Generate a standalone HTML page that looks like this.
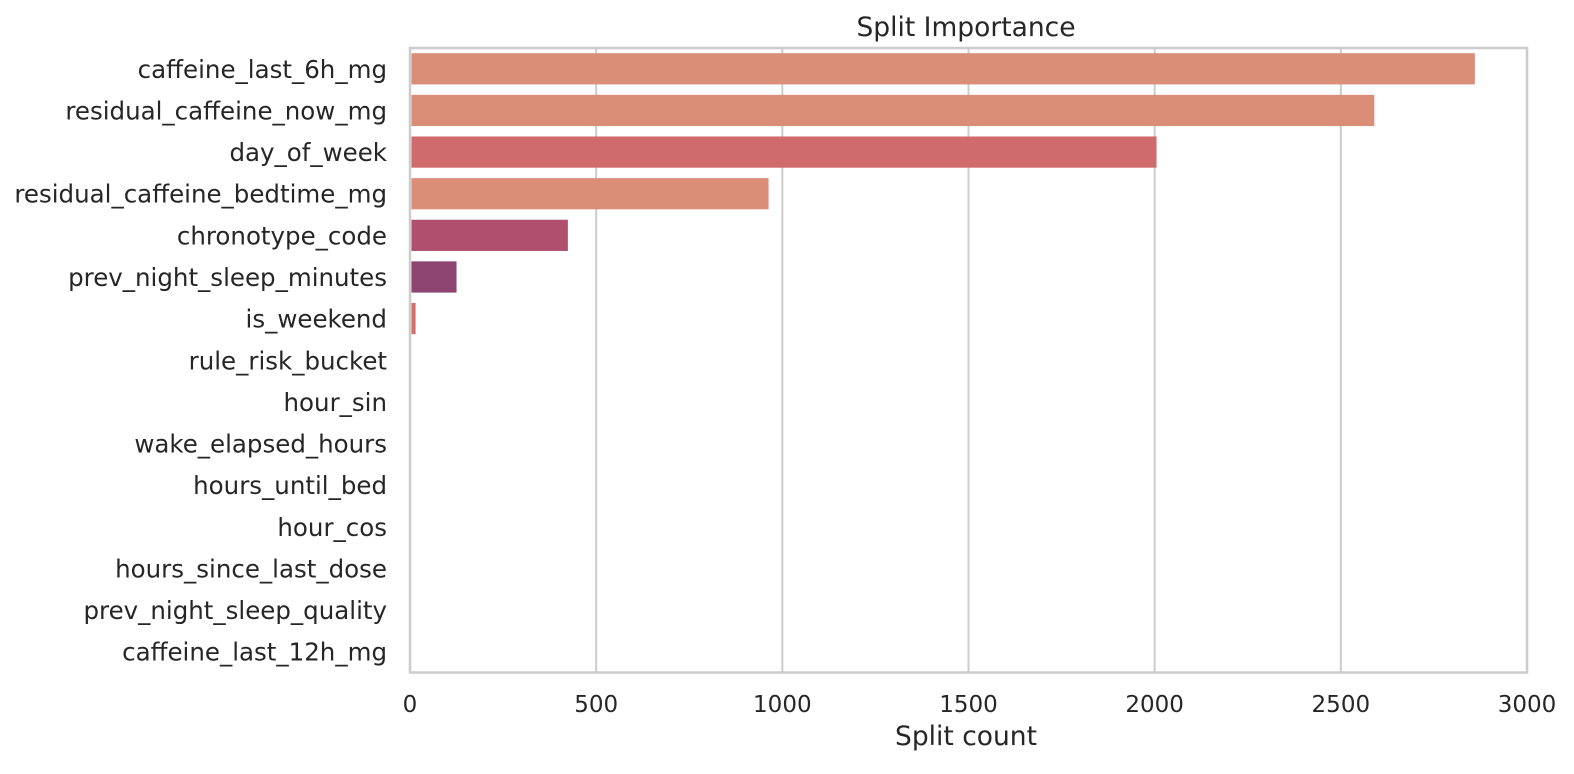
<!DOCTYPE html>
<html><head><meta charset="utf-8"><style>
body{margin:0;background:#fff;}
svg text{font-family:"DejaVu Sans","Liberation Sans",sans-serif;fill:#262626;}
</style></head><body>
<svg id="chart" width="1574" height="769" xmlns="http://www.w3.org/2000/svg">
<rect width="1574" height="769" fill="#fff"/>
<g id="grid"></g><g id="bars"></g><g id="ylabels"></g><g id="xticks"></g>
<rect x="410" y="48" width="1117" height="624.5" fill="none" stroke="#cccccc" stroke-width="2.5"/>
<text x="966" y="36" font-size="26.5" text-anchor="middle">Split Importance</text>
<text x="966" y="745" font-size="26.5" text-anchor="middle">Split count</text>
</svg>
<script>
const categories=["caffeine_last_6h_mg","residual_caffeine_now_mg","day_of_week","residual_caffeine_bedtime_mg","chronotype_code","prev_night_sleep_minutes","is_weekend","rule_risk_bucket","hour_sin","wake_elapsed_hours","hours_until_bed","hour_cos","hours_since_last_dose","prev_night_sleep_quality","caffeine_last_12h_mg"];
const values=[2860,2590,2005,963,424,125,15,0,0,0,0,0,0,0,0];
const colors=["#da8e77","#da8e77","#cf6b6c","#da8e77","#b0506e","#8e4470","#d3706c","#da8e77","#da8e77","#da8e77","#da8e77","#da8e77","#da8e77","#da8e77","#da8e77"];
const xTicks=[0,500,1000,1500,2000,2500,3000];
const X0=410,X1=1527,Y0=48,Y1=672.5,XMAX=3000;
const x=v=>X0+(v/XMAX)*(X1-X0);
const band=(Y1-Y0)/categories.length;
const yc=i=>Y0+band*(i+0.5);
const NS="http://www.w3.org/2000/svg";
function mk(t,a,p){const e=document.createElementNS(NS,t);for(const k in a)e.setAttribute(k,a[k]);p.appendChild(e);return e;}
const g=document.getElementById('grid'),b=document.getElementById('bars'),yl=document.getElementById('ylabels'),xt=document.getElementById('xticks');
xTicks.forEach(v=>{
 const l=mk('line',{x1:x(v),x2:x(v),y1:Y0,y2:Y1,stroke:'#cccccc','stroke-width':2},g);
 
 
 const t=mk('text',{x:x(v),y:712,'font-size':23,'text-anchor':'middle'},xt);
 t.textContent=v;
 
 
});
categories.forEach((c,i)=>{
 const h=band*0.75;
 const r=mk('rect',{x:X0+1.5,y:yc(i)-h/2,width:Math.max(0,x(values[i])-X0-1.5),height:h,fill:colors[i]},b);
 
 
 const t=mk('text',{x:387,y:yc(i)+9,'font-size':24.5,'text-anchor':'end'},yl);
 t.textContent=c;
 
 
});
</script>
</body></html>
